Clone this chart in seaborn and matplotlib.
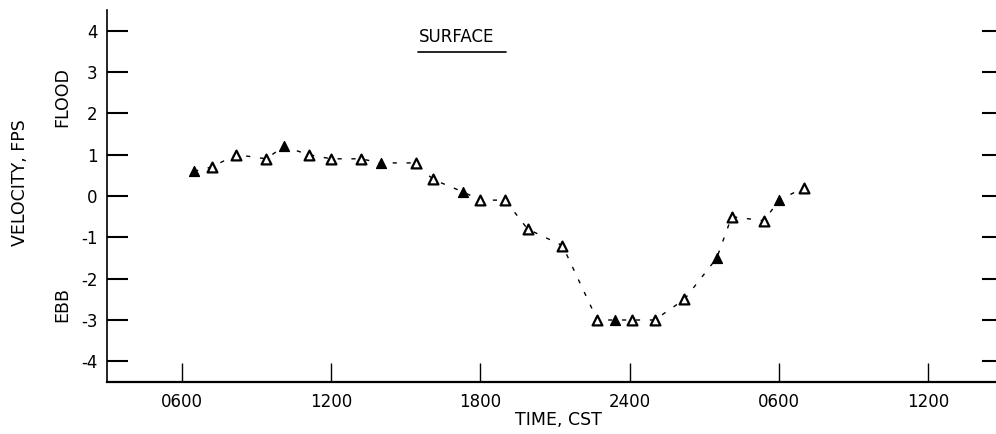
import matplotlib
matplotlib.use("Agg")
import matplotlib.pyplot as plt
import matplotlib.lines as mlines
import numpy as np
import pandas as pd
import seaborn as sns

# surface current velocity, hours counted from 0000 of first day
hours = [6.5, 7.2, 8.2, 9.4, 10.1, 11.1, 12.0, 13.2, 14.0, 15.4, 16.1, 17.3, 18.0,
         19.0, 19.9, 21.3, 22.7, 23.4, 24.1, 25.0, 26.2, 27.5, 28.1, 29.4, 30.0, 31.0]
velocity = [0.6, 0.7, 1.0, 0.9, 1.2, 1.0, 0.9, 0.9, 0.8, 0.8, 0.4, 0.1, -0.1,
            -0.1, -0.8, -1.2, -3.0, -3.0, -3.0, -3.0, -2.5, -1.5, -0.5, -0.6, -0.1, 0.2]
# triangles that came out solid in the print
solid = [1, 0, 0, 0, 1, 0, 0, 0, 1, 0, 0, 1, 0,
         0, 0, 0, 0, 1, 0, 0, 0, 1, 0, 0, 1, 0]

xtick_pos = [6, 12, 18, 24, 30, 36]
xtick_labels = ["0600", "1200", "1800", "2400", "0600", "1200"]
ytick_pos = [4, 3, 2, 1, 0, -1, -2, -3, -4]
ytick_labels = ["4", "3", "2", "1", "0", "-1", "-2", "-3", "-4"]

df = pd.DataFrame({"hour": hours, "vel": velocity, "solid": solid})

sns.set_style("ticks")
plt.rcParams["font.family"] = ["DejaVu Sans"]
plt.rcParams["text.color"] = "black"
plt.rcParams["axes.labelcolor"] = "black"

fig = plt.figure(figsize=(9.96, 4.34), dpi=100)
ax = fig.add_axes([107 / 996, 1 - 382 / 434, (1003 - 107) / 996, 372 / 434])

sns.lineplot(x="hour", y="vel", data=df, ax=ax, color="black", linewidth=1.0,
             linestyle=(0, (3, 7)), sort=False, zorder=2)
sns.scatterplot(x="hour", y="vel", data=df[df["solid"] == 0], ax=ax, marker="^",
                s=50, facecolor="white", edgecolor="black", linewidth=1.6, zorder=3)
sns.scatterplot(x="hour", y="vel", data=df[df["solid"] == 1], ax=ax, marker="^",
                s=50, color="black", edgecolor="black", linewidth=1.0, zorder=3)

ax.set_xlim(3, 39)
ax.set_ylim(-4.5, 4.5)
ax.set_xticks(xtick_pos)
ax.set_xticklabels(xtick_labels)
ax.set_yticks(ytick_pos)
ax.set_yticklabels(ytick_labels)
ax.set_xlabel("")
ax.set_ylabel("")

for s in ["top", "right"]:
    ax.spines[s].set_visible(False)
ax.spines["left"].set_linewidth(1.2)
ax.spines["bottom"].set_linewidth(1.6)
ax.spines["left"].set_color("black")
ax.spines["bottom"].set_color("black")

ax.tick_params(axis="y", direction="in", length=15, width=1.5, left=True, right=True,
               labelsize=12, pad=7, colors="black")
ax.tick_params(axis="x", direction="in", length=14, width=1.0, labelsize=12, pad=8,
               colors="black")

# annotations in figure pixel positions
W, H = 996, 434
fig.text(20 / W, 1 - 183 / H, "VELOCITY, FPS", rotation=90, ha="center", va="center",
         fontsize=12.5)
fig.text(62 / W, 1 - 97 / H, "FLOOD", rotation=90, ha="center", va="center", fontsize=12.5)
fig.text(62 / W, 1 - 305 / H, "EBB", rotation=90, ha="center", va="center", fontsize=12.5)
fig.text(457 / W, 1 - 37 / H, "SURFACE", ha="center", va="center", fontsize=12)
fig.add_artist(mlines.Line2D([418 / W, 506 / W], [1 - 52 / H, 1 - 52 / H],
                             color="black", linewidth=1.2))
fig.text(558 / W, 1 - 420 / H, "TIME, CST", ha="center", va="center", fontsize=12.5)

fig.savefig("out.png", dpi=100, facecolor="white")
